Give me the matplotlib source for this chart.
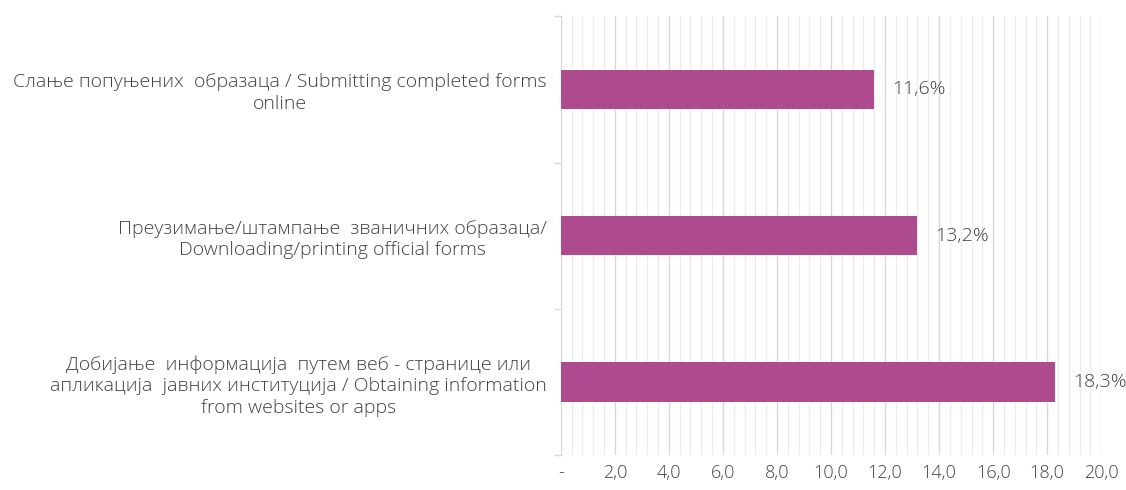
import numpy as np
import matplotlib.pyplot as plt
from matplotlib.ticker import MultipleLocator, FixedLocator

# data, top to bottom
labels = [
    "Слање попуњених  образаца / Submitting completed forms\nonline",
    "Преузимање/штампање  званичних образаца/\nDownloading/printing official forms",
    "Добијање  информација  путем веб - странице или\nапликација  јавних институција / Obtaining information\nfrom websites or apps",
]
values = [11.6, 13.2, 18.3]
xticks = [0, 2, 4, 6, 8, 10, 12, 14, 16, 18, 20]
xticklabels = ["-", "2,0", "4,0", "6,0", "8,0", "10,0", "12,0", "14,0", "16,0", "18,0", "20,0"]

plt.rcParams['font.family'] = ['Open Sans', 'DejaVu Sans']
text_color = '#404040'

fig = plt.figure(figsize=(11.26, 4.9), dpi=100)
ax = fig.add_axes([0.498, 0.071, 0.48, 0.896])

ypos = np.arange(len(values))
ax.barh(ypos, values, height=0.27, color='#AE4A8E', zorder=3)
ax.set_ylim(len(values) - 0.5, -0.5)
ax.set_xlim(0, 20)

for y, v in zip(ypos, values):
    ax.annotate(f"{v:.1f}%".replace('.', ','), (v, y), xytext=(13, 0),
                textcoords='offset points', ha='left', va='center',
                fontsize=14, color=text_color, fontweight='light')

ax.set_yticks(ypos)
ax.set_yticklabels(labels, fontsize=14, color=text_color, multialignment='center',
                   fontweight='light', linespacing=1.25)
ax.yaxis.set_minor_locator(FixedLocator([-0.5, 0.5, 1.5, 2.5]))
ax.tick_params(axis='y', which='major', length=0, pad=10)
ax.tick_params(axis='y', which='minor', length=5, color='#d9d9d9', width=1)

ax.set_xticks(xticks)
ax.set_xticklabels(xticklabels, fontsize=13, color=text_color, fontweight='light')
ax.xaxis.set_minor_locator(MultipleLocator(0.4))
ax.tick_params(axis='x', which='both', length=0, pad=6)

ax.grid(axis='x', which='major', color='#d9d9d9', linewidth=1, zorder=0)
ax.grid(axis='x', which='minor', color='#ececec', linewidth=1, zorder=0)

for s in ['top', 'right', 'bottom']:
    ax.spines[s].set_visible(False)
ax.spines['left'].set_color('#d9d9d9')

fig.savefig('out.png', dpi=100)
